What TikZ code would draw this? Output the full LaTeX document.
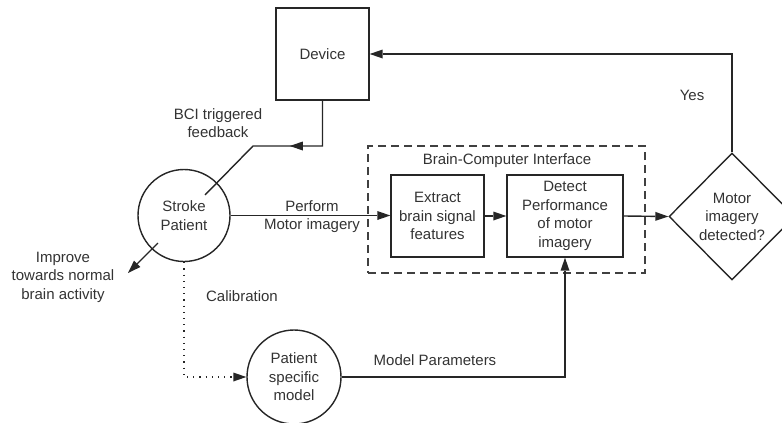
\documentclass[tikz,border=0pt]{standalone}
\usepackage{fontspec}
\setmainfont{Liberation Sans}
\usetikzlibrary{arrows.meta,shapes.geometric,decorations.markings}
\begin{document}
\begin{tikzpicture}[x=1pt,y=-1pt,
  font=\fontsize{15}{18.5}\selectfont,
  every node/.style={text=black!80},
  line width=1.4pt,
  conn/.style={draw=black!85,-{Triangle[length=13pt,width=9pt,line width=0pt]}},
  box/.style={draw=black!85,rectangle,align=center,inner sep=0pt},
  circ/.style={draw=black!85,circle,align=center,inner sep=0pt},
  lbl/.style={align=center,inner sep=0pt}
]
\useasboundingbox (0,0) rectangle (782,423);

\node[box, minimum width=93pt, minimum height=92pt] (dev) at (322.5,54) {Device};
\node[circ, minimum size=92pt] (sp) at (184,215.5) {Stroke\\Patient};
\node[draw=black!75, dashed, dash pattern=on 8pt off 5pt, minimum width=277pt, minimum height=127pt, inner sep=0pt] (bci) at (506.5,209.5) {};
\node[lbl] (bcit) at (507,161) {Brain-Computer Interface};
\node[box, minimum width=93pt, minimum height=82pt] (ext) at (437.5,216) {Extract\\brain signal\\features};
\node[box, minimum width=116pt, minimum height=82pt] (det) at (565,216) {Detect\\Performance\\of motor\\imagery};
\node[draw=black!85, diamond, minimum width=126pt, minimum height=127pt, inner sep=0pt, align=center] (dia) at (732,216.5) {Motor\\imagery\\detected?};
\node[circ, minimum size=94pt] (pm) at (294,377) {Patient\\specific\\model};

\node[lbl] (bcif) at (218,123) {BCI triggered\\feedback};
\node[lbl] (perf) at (312,216.5) {Perform\\Motor imagery};
\node[lbl] (imp) at (63,277) {Improve\\towards normal\\brain activity};
\node[lbl] (cal) at (242,296) {Calibration};
\node[lbl] (mp) at (435,360) {Model Parameters};
\node[lbl] (yes) at (692,95) {Yes};

\coordinate (fb1) at (253,146);
\coordinate (fb2) at (205,195);
\coordinate (im1) at (158,243);
\coordinate (im2) at (128,273);

\draw[conn] (sp.east) -- (sp.east -| ext.west);
\draw[conn] (ext.east) -- (det.west);
\draw[conn] (det.east) -- (dia.west);
\draw[conn] (dia.north) |- (dev.east);
\draw[conn] (pm.east) -| (det.south);
\draw[conn, line width=1.2pt, dash pattern=on 1.2pt off 5pt] (sp.south) |- (pm.west);
\draw[conn] (im1) -- (im2);
\draw[draw=black!85, postaction={decorate}, decoration={markings, mark=at position 78pt with {\arrow{Triangle[length=13pt,width=9pt,line width=0pt]}}}] (dev.south) |- (fb1) -- (fb2);
\end{tikzpicture}
\end{document}
